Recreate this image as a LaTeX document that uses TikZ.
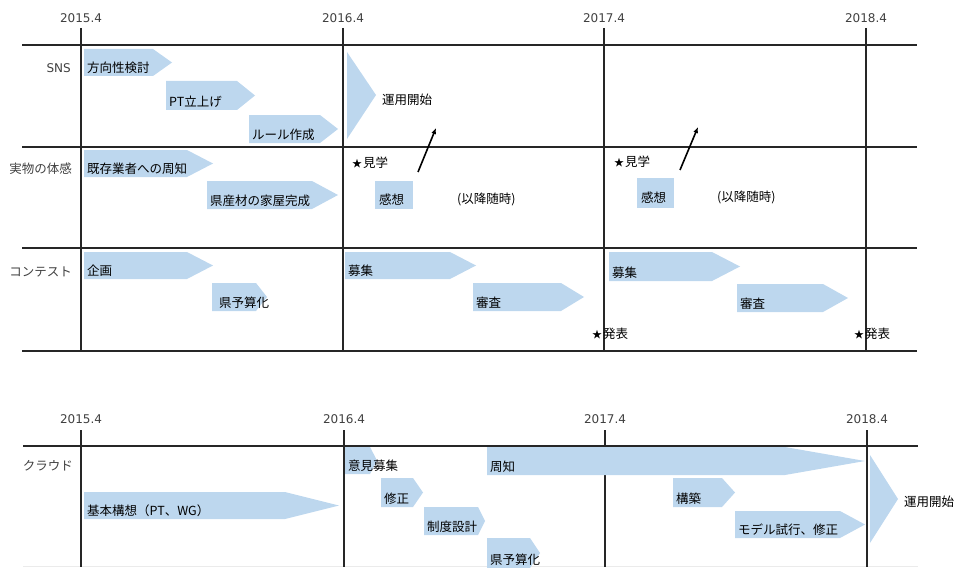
\documentclass[tikz,border=0pt]{standalone}
\usepackage{fontspec}
\setmainfont{DejaVu Sans}
\newfontfamily\jp{Noto Sans CJK JP}
\usetikzlibrary{arrows.meta}
\definecolor{barblue}{HTML}{BDD7EE}
\definecolor{labgray}{HTML}{404040}
\newcommand{\tbar}[7]{%
  \fill[barblue] (#2,#5) -- (#3,#5) -- (#4,{(#5+#6)/2}) -- (#3,#6) -- (#2,#6) -- cycle;
  \node[bartext] (#1) at ({#2+3},{#6-8}) {#7};}
\newcommand{\smstar}{{\fontsize{10}{12}\selectfont ★}\hspace{1pt}}
\begin{document}
\begin{tikzpicture}[x=1pt,y=-1pt,
  grid/.style={line width=1.2pt,black!85},
  yearlab/.style={font=\fontsize{12}{14}\selectfont,text=labgray,inner sep=0pt},
  rowlab/.style={font=\jp\fontsize{12.5}{14}\selectfont,text=labgray,inner sep=0pt,anchor=east},
  bartext/.style={font=\jp\fontsize{12.5}{14}\selectfont,text=black,inner sep=0pt,anchor=west},
  plain/.style={font=\jp\fontsize{12.5}{14}\selectfont,text=black,inner sep=0pt,anchor=west},
  conn/.style={line width=1.6pt,black,-{Latex[length=6pt,width=5pt]}}]
\useasboundingbox (0,0) rectangle (957,567);
% ---------- top chart grid ----------
\foreach \yy in {45,147,248,351} \draw[grid] (22,\yy) -- (917,\yy);
\foreach \xx/\lab in {81/2015.4,343/2016.4,604/2017.4,866/2018.4}{
  \draw[grid] (\xx,28) -- (\xx,351);
  \node[yearlab] (ty\lab) at (\xx,18) {\lab};}
% row labels
\node[rowlab] (sns) at (71,68) {\fontspec{DejaVu Sans}\fontsize{12}{14}\selectfont SNS};
\node[rowlab] (jitsu) at (72,169) {実物の体感};
\node[rowlab] (contest) at (72,272) {コンテスト};
% SNS row
\tbar{b1}{84}{153}{172}{49}{76}{方向性検討}
\tbar{b2}{166}{237}{255}{81}{110}{PT立上げ}
\tbar{b3}{249}{320}{338}{115}{143}{ルール作成}
\fill[barblue] (347,52) -- (376,95) -- (347,139) -- cycle;
\node[plain] (unyo1) at (382,100) {運用開始};
% 実物の体感 row
\node[plain] (kengaku1) at (352,163) {\smstar 見学};
\tbar{b4}{84}{187}{213}{150}{177}{既存業者への周知}
\tbar{b5}{207}{312}{338}{181}{209}{県産材の家屋完成}
\fill[barblue] (375,181) rectangle (413,209);
\node[plain] (kanso1) at (379,200) {感想};
\node[plain] (zuiji1) at (457,199) {(以降随時)};
\node[plain] (kengaku2) at (614,162) {\smstar 見学};
\fill[barblue] (637,178) rectangle (674,208);
\node[plain] (kanso2) at (641,198) {感想};
\node[plain] (zuiji2) at (717,197) {(以降随時)};
\coordinate (a1s) at (418,172); \coordinate (a1e) at (436,128);
\coordinate (a2s) at (680,170); \coordinate (a2e) at (698,127);
\draw[conn] (a1s) -- (a1e);
\draw[conn] (a2s) -- (a2e);
% コンテスト row
\tbar{b6}{84}{187}{213}{252}{279}{企画}
\tbar{b7}{212}{256}{267}{283}{311}{\hspace{4pt}県予算化}
\tbar{b8}{345}{450}{476}{252}{279}{募集}
\tbar{b9}{473}{561}{584}{283}{311}{審査}
\node[plain] (happyo1) at (592,334) {\smstar 発表};
\tbar{b10}{609}{712}{740}{252}{281}{募集}
\tbar{b11}{737}{823}{848}{284}{312}{審査}
\node[plain] (happyo2) at (854,334) {\smstar 発表};
% ---------- bottom chart grid ----------
\draw[grid] (23,446) -- (918,446);
\draw[black!8,line width=1pt] (23,566) -- (918,566);
\foreach \xx/\lab in {81/2015.4,344/2016.4,605/2017.4,867/2018.4}{
  \draw[grid] (\xx,430) -- (\xx,567);
  \node[yearlab] (by\lab) at (\xx,419) {\lab};}
\node[rowlab] (cloud) at (73,466) {クラウド};
\tbar{c1}{84}{285}{339}{492}{519}{基本構想（PT、WG）}
\tbar{c2}{345}{370}{377}{447}{474}{意見募集}
\tbar{c3}{381}{413}{423}{478}{507}{修正}
\tbar{c4}{424}{478}{485}{507}{535}{制度設計}
\tbar{c5}{487}{530}{540}{538}{568}{県予算化}
\tbar{c6}{487}{785}{865}{447}{475}{周知}
\tbar{c7}{673}{722}{735}{478}{507}{構築}
\tbar{c8}{735}{840}{865}{511}{538}{モデル試行、修正}
\fill[barblue] (870,455) -- (898,499) -- (870,543) -- cycle;
\node[plain] (unyo2) at (904,502) {運用開始};
\end{tikzpicture}
\end{document}
